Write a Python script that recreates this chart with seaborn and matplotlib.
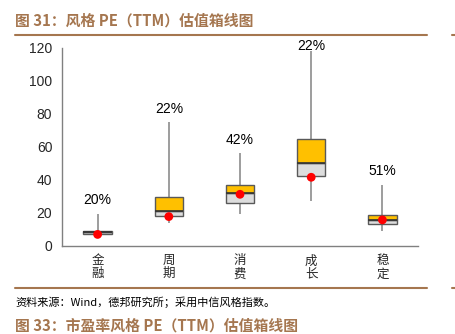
import numpy as np
import pandas as pd
import matplotlib
matplotlib.use("Agg")
import matplotlib.pyplot as plt
import seaborn as sns

categories = ["金\n融", "周\n期", "消\n费", "成\n长", "稳\n定"]
whisker_low = [7.0, 14.0, 19.4, 27.3, 9.0]
q1 = [7.2, 18.0, 26.0, 42.4, 13.5]
median = [8.5, 21.0, 32.0, 50.0, 15.6]
q3 = [9.3, 29.9, 36.8, 64.6, 18.8]
whisker_high = [19.6, 75.0, 56.0, 118.0, 37.2]
current = [7.0, 17.8, 31.3, 41.6, 15.8]
pct_labels = ["20%", "22%", "42%", "22%", "51%"]

sns.set_theme(style="white")
plt.rcParams["font.family"] = ["Liberation Sans", "Noto Sans CJK SC", "DejaVu Sans"]

df = pd.DataFrame({"cat": categories, "wl": whisker_low, "q1": q1, "med": median,
                   "q3": q3, "wh": whisker_high, "cur": current, "lab": pct_labels})
df["x"] = np.arange(len(df))

fig = plt.figure(figsize=(4.55, 3.34), dpi=100)
ax = fig.add_axes([0.1363, 0.2635, 0.7824, 0.5935])

brown = "#A5764F"
edge = "#595959"
w = 0.4
# whiskers
ax.vlines(df["x"], df["q3"], df["wh"], color="#8C8C8C", lw=1.2, zorder=1)
ax.vlines(df["x"], df["wl"], df["q1"], color="#8C8C8C", lw=1.2, zorder=1)
# boxes
ax.bar(df["x"], df["med"] - df["q1"], bottom=df["q1"], width=w, color="#DDDDDD",
       edgecolor=edge, lw=1.0, zorder=2)
ax.bar(df["x"], df["q3"] - df["med"], bottom=df["med"], width=w, color="#FFC000",
       edgecolor=edge, lw=1.0, zorder=2)
ax.hlines(df["med"], df["x"] - w / 2, df["x"] + w / 2, color="#333333", lw=1.2, zorder=3)
sns.scatterplot(x=df["x"], y=df["cur"], color="#FF0000", s=40, edgecolor="none",
                zorder=4, ax=ax, legend=False)
for xi, yi, t in zip(df["x"], df["wh"], df["lab"]):
    ax.text(xi, min(yi + 8, 121), t, ha="center", va="center", fontsize=10,
            color="#000000", clip_on=False)

ax.set_xlim(-0.5, 4.5)
ax.set_ylim(0, 120)
ax.set_yticks(np.arange(0, 121, 20))
ax.set_xticks(np.arange(-0.5, 4.6, 1))
ax.set_xticklabels([])
ax.set_xticks(df["x"], minor=True)
ax.set_xticklabels(df["cat"], minor=True, fontsize=9, family=["Noto Sans CJK SC"],
                   linespacing=1.0)
ax.tick_params(axis="x", which="major", direction="in", length=4, color="#808080")
ax.tick_params(axis="x", which="minor", length=0, pad=6)
ax.tick_params(axis="y", direction="out", length=4, color="#808080", labelsize=10, pad=3)
ax.set_xlabel("")
ax.set_ylabel("")
for s in ["top", "right"]:
    ax.spines[s].set_visible(False)
for s in ["left", "bottom"]:
    ax.spines[s].set_color("#808080")
    ax.spines[s].set_linewidth(1.0)

# title and decorations
fig.text(15 / 455, 1 - 20.5 / 334, "图 31：风格 PE（TTM）估值箱线图", fontsize=10.7, fontweight="bold",
         color=brown, family=["Noto Sans CJK SC", "DejaVu Sans"], va="center", ha="left")
fig.add_artist(plt.Line2D([15 / 455, 427 / 455], [1 - 35 / 334] * 2, color=brown, lw=1.5))
fig.add_artist(plt.Line2D([15 / 455, 427 / 455], [1 - 288 / 334] * 2, color=brown, lw=1.5))
fig.add_artist(plt.Line2D([452 / 455, 455 / 455], [1 - 35 / 334] * 2, color=brown, lw=1.5))
fig.add_artist(plt.Line2D([452 / 455, 455 / 455], [1 - 288 / 334] * 2, color=brown, lw=1.5))
fig.text(15 / 455, 1 - 302.5 / 334, "资料来源：Wind，德邦研究所；采用中信风格指数。", fontsize=8,
         color="#000000", family=["Noto Sans CJK SC", "DejaVu Sans"], va="center", ha="left")
fig.text(15 / 455, 1 - 333.5 / 334, "图 33：市盈率风格 PE（TTM）估值箱线图", fontsize=10.7,
         fontweight="bold", color=brown, family=["Noto Sans CJK SC", "DejaVu Sans"],
         va="bottom", ha="left")

fig.savefig("out.png", dpi=100)
